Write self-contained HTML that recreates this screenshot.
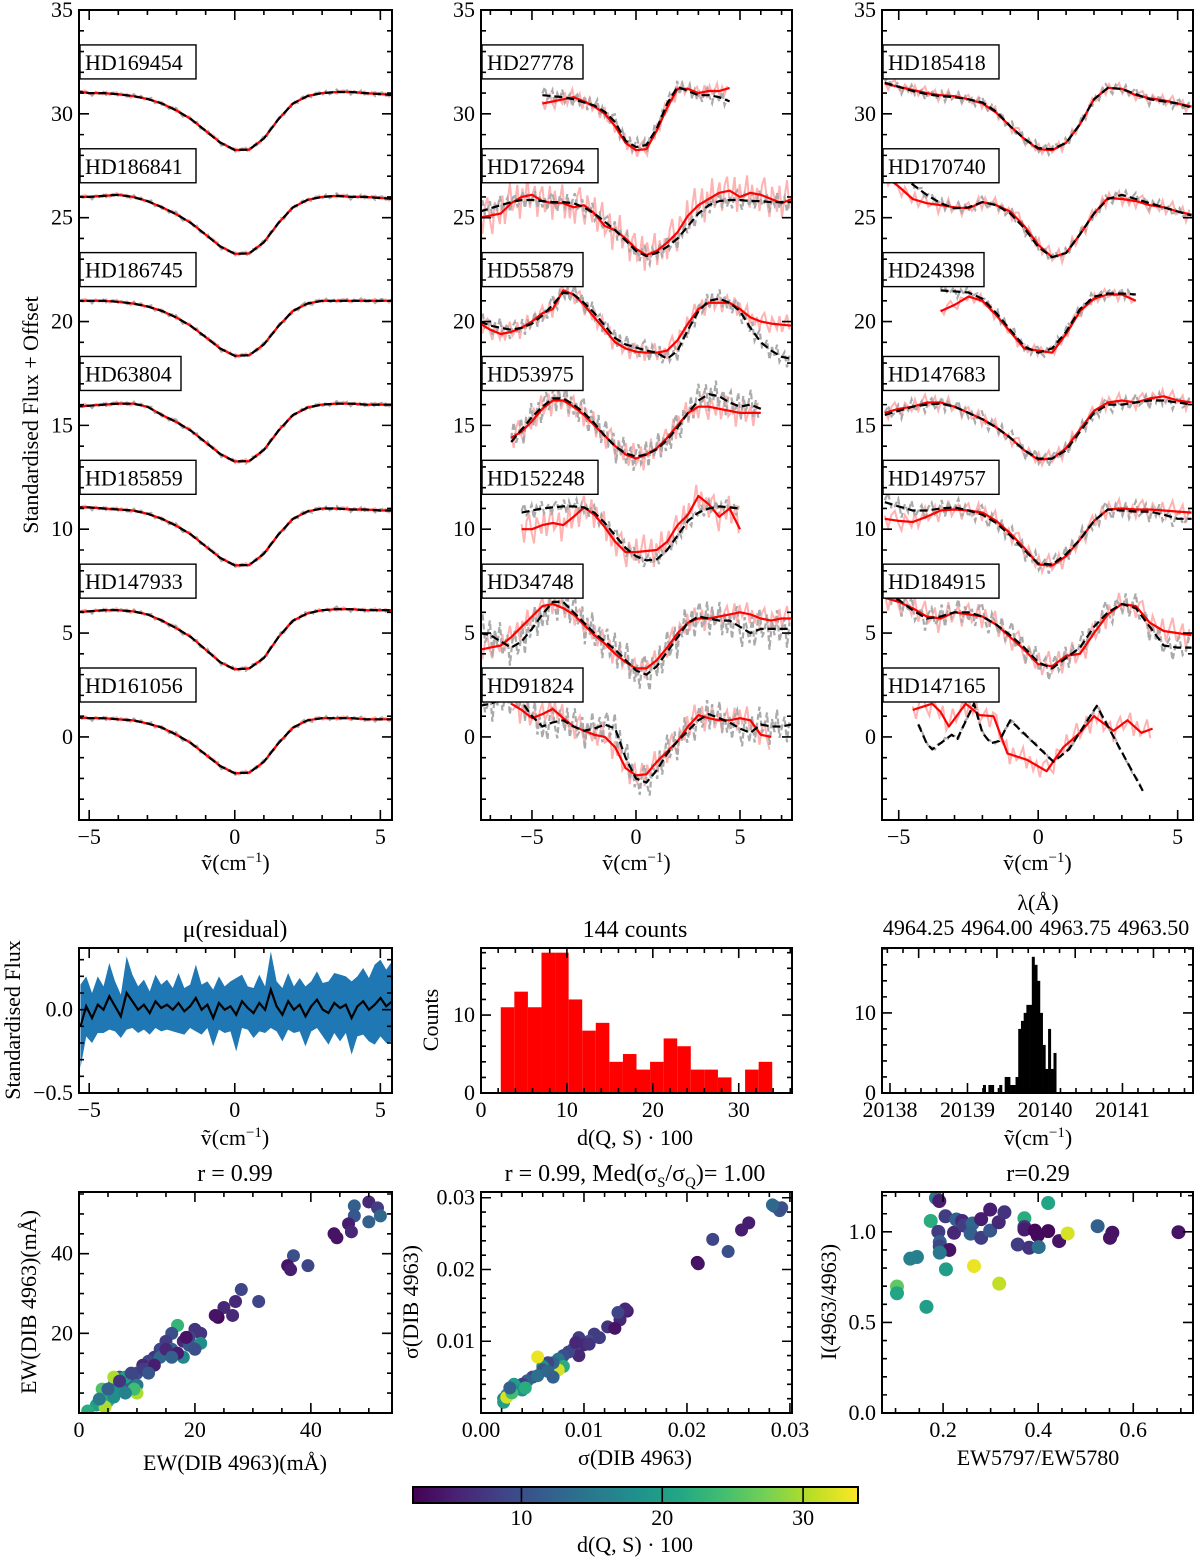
<!DOCTYPE html>
<html><head><meta charset="utf-8"><style>
html,body{margin:0;padding:0;background:#fff}
svg text{font-family:"Liberation Serif",serif;fill:#000}
</style></head><body>
<svg id="fig" xmlns="http://www.w3.org/2000/svg" width="1200" height="1560" viewBox="0 0 1200 1560"><defs id="defs"></defs></svg>
<script>
// ---------- DATA ----------
const NOISE=[0.3,-0.8,0.5,0.9,-0.2,-0.9,0.6,0.1,-0.5,0.8,-0.7,0.2,1.0,-0.4,-0.1,0.7,-1.0,0.4,-0.3,0.9,-0.6,0.0,0.5,-0.9,0.3,0.7,-0.5,-0.2,0.8,-0.8,0.6,-0.3,0.1,0.9,-0.7,0.4,-0.6];
const p1Names=['HD169454','HD186841','HD186745','HD63804','HD185859','HD147933','HD161056'];
const hd169454=[31.1,31.0,31.0,30.94,30.86,30.72,30.5,30.16,29.74,29.18,28.62,28.26,28.28,28.82,29.74,30.5,30.86,31.0,31.05,31.05,31.0,30.95,30.9];
const hd186841=[26,26,26.05,26.1,26.0,25.8,25.5,25.16,24.74,24.18,23.62,23.26,23.28,23.82,24.74,25.5,25.86,26.0,26.05,26.0,26.0,25.95,25.9];
const hd186745=[21,21,21,20.95,20.87,20.73,20.51,20.19,19.78,19.25,18.7,18.35,18.38,18.9,19.78,20.51,20.87,21,21,21,21,21,21];
const hd63804=[15.9,15.95,16.0,16.05,16.05,15.9,15.5,15.16,14.74,14.18,13.62,13.26,13.28,13.82,14.74,15.5,15.86,16.0,16.05,16.05,16.0,16.0,16.0];
const hd185859=[11.05,11.05,11.0,10.95,10.9,10.75,10.5,10.16,9.74,9.18,8.62,8.26,8.28,8.82,9.74,10.5,10.86,11.0,11.0,10.95,10.95,10.9,10.9];
const hd147933=[6.0,6.05,6.1,6.1,6.05,5.9,5.6,5.23,4.8,4.2,3.6,3.25,3.3,3.8,4.8,5.6,5.95,6.1,6.15,6.15,6.1,6.1,6.1];
const hd161056=[0.95,0.9,0.9,0.85,0.8,0.65,0.45,0.1,-0.3,-0.85,-1.4,-1.75,-1.72,-1.2,-0.3,0.45,0.8,0.9,0.9,0.9,0.85,0.85,0.85];
const hd27778_fit=[30.9,30.85,30.8,30.7,30.55,30.4,30.1,29.6,28.7,28.4,28.5,29.3,30.5,31.3,31.1,30.9,30.9,30.8,30.6];
const hd27778_red=[30.5,30.6,30.7,30.8,30.6,30.35,30.0,29.4,28.6,28.25,28.3,29.2,30.3,31.2,31.2,31.0,31.1,31.1,31.25];
const hd172694_fit=[25.3,25.45,25.6,25.75,25.85,25.85,25.8,25.75,25.75,25.7,25.5,25.2,24.8,24.4,23.9,23.4,23.15,23.3,23.6,24.0,24.6,25.2,25.6,25.8,25.85,25.85,25.8,25.8,25.75,25.75,25.75];
const hd172694_red=[25.0,25.1,25.2,25.7,26.0,26.1,25.8,25.7,25.7,25.5,25.6,25.2,24.6,24.4,24.0,23.5,23.2,23.4,23.8,24.3,25.1,25.6,25.9,26.2,26.3,26.0,26.2,26.1,25.9,25.7,25.9];
const hd55879_fit=[20.0,19.8,19.7,19.6,19.7,19.9,20.3,20.8,21.4,21.3,20.9,20.4,19.8,19.2,18.9,18.75,18.6,18.5,18.2,18.6,19.6,20.5,21.0,21.1,20.9,20.5,19.7,19.0,18.6,18.3,18.2];
const hd55879_red=[19.9,19.6,19.4,19.5,19.7,20.0,20.4,20.6,21.5,21.3,20.8,20.2,19.6,19.0,18.7,18.55,18.5,18.5,18.6,19.1,19.9,20.6,20.9,20.9,20.9,20.6,20.2,20.0,19.9,19.85,19.8];
const hd53975_fit=[14.2,14.8,15.4,15.9,16.3,16.3,16.0,15.6,15.1,14.5,14.0,13.65,13.5,13.6,13.85,14.3,14.9,15.6,16.2,16.5,16.4,16.1,15.9,16.0,15.8];
const hd53975_red=[14.4,14.7,15.2,15.8,16.2,16.2,15.9,15.5,15.0,14.5,14.0,13.6,13.4,13.6,13.9,14.4,15.0,15.6,15.9,15.9,15.8,15.7,15.6,15.6,15.6];
const hd152248_fit=[10.8,10.9,11.0,11.05,11.1,11.1,11.05,10.8,10.3,9.7,9.1,8.7,8.5,8.55,9.0,9.7,10.4,10.8,11.0,11.1,11.05,11.0];
const hd152248_red=[10.0,10.0,10.2,10.3,10.2,10.6,11.05,10.7,10.1,9.4,8.9,8.9,8.95,9.0,9.4,10.2,10.7,11.6,11.2,10.6,11.0,10.0];
const hd34748_fit=[5.0,4.9,4.6,4.3,4.6,5.2,5.9,6.5,6.5,6.0,5.5,5.0,4.6,4.2,3.7,3.2,3.0,3.4,4.1,4.8,5.5,5.8,5.7,5.6,5.6,5.3,5.0,5.2,5.2,5.2,5.2];
const hd34748_red=[4.2,4.3,4.4,4.8,5.3,5.8,6.3,6.4,6.2,5.9,5.4,4.9,4.5,4.0,3.6,3.3,3.3,3.7,4.3,5.0,5.5,5.7,5.7,5.8,5.9,6.0,5.9,5.7,5.6,5.7,5.7];
const hd91824_fit=[1.5,1.6,1.8,1.9,1.7,1.0,0.5,0.7,0.8,0.5,0.3,0.4,0.6,0.4,-1.0,-2.0,-2.2,-1.6,-0.8,-0.2,0.3,0.8,1.1,0.9,0.7,0.4,0.2,0.6,0.5,0.5,0.6];
const hd91824_red=[null,null,null,1.6,1.3,0.9,1.1,1.35,0.9,0.5,0.3,0.1,0.0,-0.5,-1.5,-1.85,-1.8,-1.2,-0.7,-0.2,0.5,1.05,0.9,0.8,0.8,0.9,0.8,0.1,0.0,null,null];
const hd185418_fit=[31.5,31.3,31.1,30.95,30.85,30.8,30.7,30.55,30.1,29.4,28.8,28.35,28.3,28.6,29.5,30.7,31.25,31.2,30.95,30.7,30.6,30.5,30.3];
const hd185418_red=[31.45,31.3,31.15,31.0,30.9,30.85,30.7,30.5,30.05,29.4,28.8,28.3,28.25,28.6,29.5,30.7,31.25,31.2,30.9,30.75,30.65,30.5,30.35];
const hd170740_fit=[27.8,27.2,26.6,26.1,25.7,25.45,25.5,25.75,25.6,25.2,24.5,23.6,23.1,23.3,24.2,25.2,25.9,26.1,25.9,25.7,25.5,25.3,25.1];
const hd170740_red=[27.0,26.5,25.9,25.7,25.6,25.5,25.45,25.75,25.6,25.3,24.6,23.7,23.1,23.3,24.2,25.2,25.95,25.9,25.8,25.6,25.5,25.3,25.15];
const hd24398_fit=[21.5,21.45,21.4,21.1,20.4,19.6,18.8,18.5,18.7,19.5,20.6,21.2,21.35,21.35,21.3];
const hd24398_red=[20.5,20.8,21.2,21.0,20.3,19.5,18.7,18.6,18.5,19.4,20.5,21.1,21.3,21.3,21.0];
const hd147683_fit=[15.5,15.7,15.9,16.0,16.05,15.9,15.6,15.3,14.9,14.4,13.8,13.4,13.4,13.8,14.7,15.6,16.0,16.0,16.1,16.2,16.2,16.1,16.0];
const hd147683_red=[15.6,15.8,15.9,16.1,16.1,15.9,15.6,15.3,14.9,14.4,13.8,13.35,13.4,13.9,14.8,15.7,16.1,16.2,16.1,16.3,16.4,16.2,16.1];
const hd149757_fit=[11.3,11.1,10.9,10.9,11.0,11.05,10.9,10.7,10.3,9.7,9.0,8.35,8.3,8.8,9.5,10.4,10.95,10.9,10.85,10.85,10.7,10.5,10.5];
const hd149757_red=[10.5,10.4,10.35,10.6,10.9,10.95,10.9,10.8,10.4,9.8,9.1,8.3,8.25,8.7,9.5,10.4,10.95,11.0,10.95,10.95,10.9,10.85,10.8];
const hd184915_fit=[6.8,6.6,6.1,5.7,5.8,6.0,6.0,5.8,5.4,4.9,4.3,3.6,3.3,3.8,4.3,5.3,6.0,6.4,6.2,5.3,4.4,4.3,4.3];
const hd184915_red=[6.7,6.5,6.2,5.8,5.7,6.0,5.9,5.8,5.4,4.8,4.2,3.5,3.4,3.9,4.0,5.0,5.9,6.4,6.3,5.5,5.1,5.0,4.9];
const hd147165_fitX=[-4.3,-4.0,-3.8,-3.4,-3.1,-2.9,-2.3,-2.0,-1.7,-1.4,-1.0,0.55,1.1,2.1,3.75];
const hd147165_fit=[0.6,-0.3,-0.6,-0.2,0.1,-0.1,1.6,0.2,-0.3,-0.2,0.8,-1.2,-0.6,1.5,-2.6];
const hd147165_redX=[-4.5,-3.8,-3.5,-3.2,-2.6,-2.1,-1.6,-1.1,-0.4,0.3,0.9,1.5,2.0,2.7,3.2,3.7,4.1];
const hd147165_red=[1.3,1.6,1.2,0.5,1.6,1.05,1.0,-0.8,-1.1,-1.65,-0.5,0.2,1.0,0.3,0.8,0.2,0.4];
const resMean=[-0.1,0.02,-0.05,0.03,0.0,0.08,0.02,-0.04,0.1,0.05,0.0,0.03,-0.02,0.05,0.01,0.03,0.0,0.04,-0.01,0.02,0.07,0.0,0.03,-0.05,0.04,0.0,0.02,-0.03,0.05,0.01,-0.02,0.04,0.0,0.12,0.02,-0.03,0.05,0.0,0.03,-0.04,0.02,0.06,0.0,-0.02,0.04,0.01,0.03,-0.05,0.02,0.05,0.0,0.03,0.07,0.02,0.05];
const resBand=[0.25,0.18,0.15,0.17,0.14,0.2,0.15,0.13,0.22,0.16,0.14,0.15,0.13,0.16,0.14,0.15,0.13,0.18,0.14,0.13,0.2,0.15,0.14,0.17,0.16,0.14,0.15,0.22,0.16,0.13,0.15,0.17,0.14,0.23,0.15,0.16,0.17,0.14,0.16,0.18,0.15,0.17,0.16,0.19,0.18,0.2,0.17,0.22,0.18,0.2,0.19,0.24,0.23,0.22,0.24];
const dqsCounts=[11,13,11,18,18,12,8,9,4,5,3,4,7,6,3,3,2,0,3,4];
const nuCounts=[1,0,1,1,0,0,1,0,2,2,1,1,2,8,9,10,11,11,17,16,14,10,6,3,8,3,5];
const lambdaLabels=['4964.25','4964.00','4963.75','4963.50'];
const lambdaPos=[20138.37,20139.38,20140.39,20141.40];
const ewX=[50,51.5,47.5,47.5,50,52,46.5,47,44,44.5,37,36,36.5,39.5,28,31,27,25,24,23.5,26.5,20,21,21,17,19,18,16,15,14,16,18,19,13,12,11,12,14,15,10,9,8,10,7,6,5,7,4,5,3,4,6,4.5,1.5,10,9.5,8,11,13,17,16,20,18.5,7,9,12,6,5,8,3.5];
const ewY=[53,51.5,52,49.5,48,49.5,47.5,45.5,45,44,39.5,37,36,37,31,28,28,26.5,24,24.5,24.5,21,20,17.5,22,19,18,20,18,16,16,14,17,14,13,12,11,14,16,10,9,8,7,9,7,5,6,4,3,2,6,9,1.5,0.5,5,6,9,11,12,15,14,16,19,8,10,10,4,6,5,3.5];
const ewC=[6,8,12,11,12,13,5,6,4,4,10,4,5,9,9,9,6,6,3,4,6,7,7,18,23,9,6,10,8,9,12,17,11,7,9,6,10,13,6,10,8,12,15,10,14,20,18,21,22,20,25,30,30,22,30,24,20,8,5,5,12,10,4,7,9,11,18,12,16,15];
const sgX=[28.5,29,29.2,28.3,26,25.3,22.5,24,21,21.1,14.2,14,13.5,13.3,12.3,13,11,10.5,9.5,10,9,9.5,8.5,8,7.5,8,7.5,7,6.5,6,5.5,6,5,4.5,4,3.5,3,3.2,4,2.5,2.2,2.2,2.5,3,4.3,2.8,5.5,6.5,7,9.2,10.5,11.5];
const sgY=[28.8,28.2,28.6,29,26.5,25.5,24.2,22.5,21,20.8,14.2,14.5,13,14,12,11.8,11,10,10.5,9.5,9,8,8.5,8,7.5,6.5,6,7,7,6.5,7.8,6,5,4.5,4,3.5,3,4,3.2,2.5,2,1.5,2.2,2.8,3.5,3.5,5.2,5.8,5,9.8,9.6,10.5];
const sgC=[12,11,10,13,5,5,9,10,3,4,5,6,6,9,7,4,8,10,8,6,12,6,9,10,15,22,32,13,9,18,33,11,9,12,8,16,14,20,18,15,16,20,32,24,22,12,14,13,12,6,7,8];
const rtX=[.185,.192,.174,.205,.19,.223,.228,.24,.244,.262,.258,.28,.28,.299,.299,.317,.329,.193,.193,.213,.193,.131,.145,.206,.265,.318,.103,.103,.165,.371,.371,.371,.393,.399,.421,.421,.357,.381,.401,.444,.462,.525,.556,.551,.695];
const rtY=[1.187,1.17,1.06,1.086,1.0,.995,1.068,1.06,1.035,1.046,.99,1.07,.967,1.123,1.007,1.053,1.108,.943,.92,.9,.885,.852,.861,.793,.811,.714,.698,.661,.586,1.075,1.027,1.013,1.007,.98,1.004,1.159,.93,.912,.916,.949,.991,1.031,.995,.967,.998];
const rtC=[15,5,22,8,8,6,12,6,8,13,12,5,8,5,11,6,7,12,9,4,15,16,16,20,33,31,26,21,20,22,7,5,3,3,3,21,8,7,14,4,32,12,4,4,4];
const cbTicks=[10,20,30];

// ---------- HELPERS ----------
const NS='http://www.w3.org/2000/svg';
const svg=document.getElementById('fig');
const defs=document.getElementById('defs');
const TF=22;
function mk(tag,parent){const e=document.createElementNS(NS,tag);parent.appendChild(e);return e;}
function set(e,o){for(const k in o)e.setAttribute(k,o[k]);return e;}
const VIR=[[68,1,84],[72,35,116],[64,67,135],[52,94,141],[41,120,142],[32,144,140],[34,167,132],[68,190,112],[121,209,81],[189,222,38],[253,231,37]];
const CMIN=2.3,CMAX=33.9;
function vir(c){let t=Math.max(0,Math.min(1,(c-CMIN)/(CMAX-CMIN)))*(VIR.length-1);const i=Math.min(VIR.length-2,Math.floor(t)),f=t-i;const a=VIR[i],b=VIR[i+1];return 'rgb('+a.map((v,k)=>Math.round(v+(b[k]-v)*f)).join(',')+')';}
let clipId=0;
function panel(name,L,T,R,B,x0,x1,y0,y1){
  const p={L,T,R,B,sx:v=>L+(v-x0)/(x1-x0)*(R-L),sy:v=>B-(v-y0)/(y1-y0)*(B-T),x0,x1,y0,y1};
  const cp=mk('clipPath',defs);cp.setAttribute('id','c'+(++clipId));
  set(mk('rect',cp),{x:L,y:T,width:R-L,height:B-T});
  p.root=mk('g',svg);
  
  
  p.g=mk('g',p.root);p.g.setAttribute('clip-path','url(#c'+clipId+')');
  
  
  return p;
}
function frame(p){const r=set(mk('rect',p.root),{x:p.L,y:p.T,width:p.R-p.L,height:p.B-p.T,fill:'none',stroke:'#000','stroke-width':2});
  
  }
function ticksX(p,minor,major,labels,fmt,sides){
  let d='';const n0=Math.ceil(p.x0/minor-1e-6),n1=Math.floor(p.x1/minor+1e-6);
  const g=mk('g',p.root);
  
  
  for(let n=n0;n<=n1;n++){const v=n*minor;const X=p.sx(v);const isM=Math.abs(v/major-Math.round(v/major))<1e-6;const len=isM?10:5;
    if(sides.includes('b'))d+=`M${X},${p.B}v${-len}`;
    if(sides.includes('t'))d+=`M${X},${p.T}v${len}`;
    if(isM&&labels){const t=set(mk('text',g),{x:X,y:p.B+24,'text-anchor':'middle','font-size':TF});t.textContent=fmt(v);
      
      }}
  set(mk('path',g),{d,stroke:'#000','stroke-width':1.6,fill:'none'});
}
function ticksY(p,minor,major,labels,fmt){
  let d='';const n0=Math.ceil(p.y0/minor-1e-6),n1=Math.floor(p.y1/minor+1e-6);
  const g=mk('g',p.root);
  
  
  for(let n=n0;n<=n1;n++){const v=n*minor;const Y=p.sy(v);const isM=Math.abs(v/major-Math.round(v/major))<1e-6;const len=isM?10:5;
    d+=`M${p.L},${Y}h${len}M${p.R},${Y}h${-len}`;
    if(isM&&labels){const t=set(mk('text',g),{x:p.L-6,y:Y+7,'text-anchor':'end','font-size':TF});t.textContent=fmt(v);
      
      }}
  set(mk('path',g),{d,stroke:'#000','stroke-width':1.6,fill:'none'});
}
function text(parent,s,x,y,size,anchor,rot){const t=set(mk('text',parent),{x,y,'font-size':size,'text-anchor':anchor||'middle'});
  if(rot)t.setAttribute('transform',`rotate(-90 ${x} ${y})`);t.textContent=s;return t;}
function nuLabel(parent,x,y){const t=set(mk('text',parent),{x,y,'font-size':22,'text-anchor':'middle'});
  
  
  t.appendChild(document.createTextNode('ṽ(cm'));const s=mk('tspan',t);set(s,{'font-size':15,dy:-8});s.textContent='−1';
  const s2=mk('tspan',t);set(s2,{dy:8});s2.textContent=')';}
function pathOf(p,xs,ys){let d='',pen=false;for(let i=0;i<xs.length;i++){if(ys[i]==null){pen=false;continue;}d+=(pen?'L':'M')+p.sx(xs[i]).toFixed(1)+','+p.sy(ys[i]).toFixed(1);pen=true;}return d;}
function interp(xs,ys,x){for(let i=0;i<xs.length-1;i++){if(x>=xs[i]&&x<=xs[i+1]){if(ys[i]==null||ys[i+1]==null)return null;const f=(x-xs[i])/(xs[i+1]-xs[i]);return ys[i]+(ys[i+1]-ys[i])*f;}}return null;}
function noisy(p,xs,ys,amp,shift){const nx=[],ny=[];let i=0;for(let x=xs[0];x<=xs[xs.length-1]+1e-9;x+=0.12,i++){const v=interp(xs,ys,x);nx.push(x);ny.push(v==null?null:v+amp*NOISE[(i+shift)%NOISE.length]);}return pathOf(p,nx,ny);}
function grid(a,b){const r=[];for(let v=a;v<=b+1e-9;v+=0.5)r.push(Math.round(v*10)/10);return r;}
function star(p,name,fx,fy,rx,ry,ampR,ampG){
  const g=mk('g',p.g);
  
  
  const a=set(mk('path',g),{d:noisy(p,rx,ry,ampR,0),stroke:'rgba(255,0,0,0.3)','stroke-width':2,fill:'none'});
  
  
  const b=set(mk('path',g),{d:noisy(p,fx,fy,ampG,11),stroke:'#aaa','stroke-width':2.2,'stroke-dasharray':'6,3',fill:'none'});
  
  
  const c=set(mk('path',g),{d:pathOf(p,rx,ry),stroke:'#f00','stroke-width':2.2,fill:'none','stroke-linejoin':'round'});
  
  
  const e=set(mk('path',g),{d:pathOf(p,fx,fy),stroke:'#000','stroke-width':2.2,'stroke-dasharray':'8,4',fill:'none','stroke-linejoin':'round'});
  
  
}
function labelBox(p,name,k){const g=mk('g',p.root);
  
  
  const w=name.length>=8?116:101;const cy=p.sy(32.5-5*k);
  set(mk('rect',g),{x:p.L+1,y:cy-17,width:w,height:34,fill:'#fff',stroke:'#000','stroke-width':1.4});
  text(g,name,p.L+6,cy+8,22,'start');}

// ---------- TOP PANELS ----------
const P1=panel('panel-narrow-stars',79,10,392,820,-5.35,5.4,-4,35);
const g1=grid(-5.5,5.5);
[hd169454,hd186841,hd186745,hd63804,hd185859,hd147933,hd161056].forEach((arr,k)=>star(P1,p1Names[k],g1,arr,g1,arr,0.1,0.12));
const P2=panel('panel-noisy-stars',481,10,792,820,-7.45,7.5,-4,35);
const p2=[['HD27778',grid(-4.5,4.5),hd27778_fit,hd27778_red,0.4,0.4],['HD172694',grid(-7.5,7.5),hd172694_fit,hd172694_red,1.0,0.5],
 ['HD55879',grid(-7.5,7.5),hd55879_fit,hd55879_red,0.5,0.5],['HD53975',grid(-6,6),hd53975_fit,hd53975_red,0.7,0.8],
 ['HD152248',grid(-5.5,5),hd152248_fit,hd152248_red,0.8,0.4],['HD34748',grid(-7.5,7.5),hd34748_fit,hd34748_red,0.6,1.0],
 ['HD91824',grid(-7.5,7.5),hd91824_fit,hd91824_red,0.7,0.9]];
p2.forEach(s=>star(P2,s[0],s[1],s[2],s[1],s[3],s[4],s[5]));
const P3=panel('panel-broad-stars',882,10,1193,820,-5.6,5.55,-4,35);
const p3=[['HD185418',g1,hd185418_fit,g1,hd185418_red,0.3,0.3],['HD170740',g1,hd170740_fit,g1,hd170740_red,0.4,0.3],
 ['HD24398',grid(-3.5,3.5),hd24398_fit,grid(-3.5,3.5),hd24398_red,0.3,0.3],['HD147683',g1,hd147683_fit,g1,hd147683_red,0.4,0.4],
 ['HD149757',g1,hd149757_fit,g1,hd149757_red,0.5,0.5],['HD184915',g1,hd184915_fit,g1,hd184915_red,0.7,0.7],
 ['HD147165',hd147165_fitX,hd147165_fit,hd147165_redX,hd147165_red,0.6,0.1]];
p3.forEach(s=>star(P3,s[0],s[1],s[2],s[3],s[4],s[5],s[6]));
[[P1,p1Names],[P2,p2.map(s=>s[0])],[P3,p3.map(s=>s[0])]].forEach(([p,names])=>{
  names.forEach((n,k)=>labelBox(p,n,k));
  ticksX(p,1,5,true,v=>v<0?'−'+(-v):''+v,'bt');ticksY(p,1,5,true,v=>''+v);frame(p);nuLabel(p.root,(p.L+p.R)/2,870);});
const yl=text(svg,'Standardised Flux + Offset',38,415,22,'middle',true);



// ---------- RESIDUAL ----------
const P4=panel('panel-residual',79,948,392,1093,-5.35,5.4,-0.5,0.37);
const resX=resMean.map((_,i)=>-5.3+i*10.7/(resMean.length-1));
let band='';resX.forEach((x,i)=>band+=(i?'L':'M')+P4.sx(x)+','+P4.sy(resMean[i]+resBand[i]));
for(let i=resX.length-1;i>=0;i--)band+='L'+P4.sx(resX[i])+','+P4.sy(resMean[i]-resBand[i]);
const bandEl=set(mk('path',P4.g),{d:band+'Z',fill:'#1f77b4'});


const meanEl=set(mk('path',P4.g),{d:pathOf(P4,resX,resMean),stroke:'#000','stroke-width':2.2,fill:'none'});


ticksX(P4,1,5,true,v=>v<0?'−'+(-v):''+v,'bt');ticksY(P4,0.1,0.5,true,v=>v<0?'−'+(-v).toFixed(1):v.toFixed(1));frame(P4);
nuLabel(P4.root,235,1145);
text(P4.root,'μ(residual)',235,937,24);
const yl4=text(P4.root,'Standardised Flux',20,1020,22,'middle',true);



// ---------- DQS HIST ----------
const P5=panel('panel-distance-histogram',481,948,792,1093,0,36.2,0,18.6);
const binW=(CMAX-CMIN)/dqsCounts.length;
dqsCounts.forEach((c,i)=>{const x=CMIN+i*binW;const r=set(mk('rect',P5.g),{x:P5.sx(x),y:P5.sy(c),width:P5.sx(x+binW)-P5.sx(x),height:P5.sy(0)-P5.sy(c),fill:'#f00'});
  
  });
ticksX(P5,2,10,true,v=>''+v,'bt');ticksY(P5,2,10,true,v=>''+v);frame(P5);
text(P5.root,'144 counts',635,937,24);
text(P5.root,'d(Q, S) · 100',635,1145,22);
const yl5=text(P5.root,'Counts',438,1020,22,'middle',true);



// ---------- NU HIST ----------
const P6=panel('panel-wavenumber-histogram',882,948,1193,1093,20137.897,20141.91,0,18.1);
const nuW=0.035,nu0=20139.2;
nuCounts.forEach((c,i)=>{if(!c)return;const x=nu0+i*nuW;const r=set(mk('rect',P6.g),{x:P6.sx(x),y:P6.sy(c),width:P6.sx(x+nuW)-P6.sx(x)+0.3,height:P6.sy(0)-P6.sy(c),fill:'#000'});
  
  });
ticksX(P6,0.2,1,true,v=>''+Math.round(v),'b');ticksY(P6,2,10,true,v=>''+v);
let td='';const tg=mk('g',P6.root);


lambdaPos.forEach((v,i)=>{const X=P6.sx(v);td+=`M${X},${P6.T}v10`;text(tg,lambdaLabels[i],X,935,22);
  for(let k=1;k<5;k++){const xm=P6.sx(v+k*0.202);if(xm<P6.R)td+=`M${xm},${P6.T}v5`;const xn=P6.sx(v-k*0.202);if(i==0&&xn>P6.L)td+=`M${xn},${P6.T}v5`;}});
set(mk('path',tg),{d:td,stroke:'#000','stroke-width':1.6});
frame(P6);
text(P6.root,'λ(Å)',1038,910,22);
nuLabel(P6.root,1038,1145);

// ---------- SCATTERS ----------
function scatter(p,xs,ys,cs,r,scale){xs.forEach((x,i)=>{const c=set(mk('circle',p.g),{cx:p.sx(x*scale),cy:p.sy(ys[i]*scale),r,fill:vir(cs[i])});
  
  });}
const P7=panel('panel-ew-comparison',79,1192,392,1413,0,54,0,55.5);
scatter(P7,ewX,ewY,ewC,6.5,1);
ticksX(P7,5,20,true,v=>''+v,'bt');ticksY(P7,5,20,true,v=>v?''+v:'');frame(P7);
text(P7.root,'r =  0.99',235,1181,24);
text(P7.root,'EW(DIB 4963)(mÅ)',235,1470,22);
const yl7=text(P7.root,'EW(DIB 4963)(mÅ)',36,1302,22,'middle',true);



const P8=panel('panel-sigma-comparison',481,1192,792,1413,0,0.0302,0,0.0308);
scatter(P8,sgX,sgY,sgC,6.5,0.001);
ticksX(P8,0.002,0.01,true,v=>v.toFixed(2),'bt');ticksY(P8,0.002,0.01,true,v=>v>0?v.toFixed(2):'');frame(P8);
const t8=set(mk('text',P8.root),{x:635,y:1181,'font-size':24,'text-anchor':'middle'});


t8.innerHTML='r =  0.99, Med(σ<tspan font-size="15" dy="6">S</tspan><tspan dy="-6">/σ</tspan><tspan font-size="15" dy="6">Q</tspan><tspan dy="-6">)= 1.00</tspan>';
text(P8.root,'σ(DIB 4963)',635,1465,22);
const yl8=text(P8.root,'σ(DIB 4963)',418,1302,22,'middle',true);



const P9=panel('panel-ratio-scatter',882,1192,1193,1413,0.0715,0.7256,0,1.22);
scatter(P9,rtX,rtY,rtC,7,1);
ticksX(P9,0.05,0.2,true,v=>v.toFixed(1),'bt');ticksY(P9,0.1,0.5,true,v=>v.toFixed(1));frame(P9);
text(P9.root,'r=0.29',1038,1181,24);
text(P9.root,'EW5797/EW5780',1038,1465,22);
const yl9=text(P9.root,'I(4963/4963)',836,1302,22,'middle',true);



// ---------- COLORBAR ----------
const lg=mk('linearGradient',defs);lg.setAttribute('id','vir');
VIR.forEach((c,i)=>set(mk('stop',lg),{offset:(i/(VIR.length-1)*100)+'%','stop-color':'rgb('+c.join(',')+')'}));
const cb=mk('g',svg);


const cbL=413,cbR=858,cbT=1487,cbB=1503;
set(mk('rect',cb),{x:cbL,y:cbT,width:cbR-cbL,height:cbB-cbT,fill:'url(#vir)',stroke:'#000','stroke-width':2});
cbTicks.forEach(v=>{const X=cbL+(v-CMIN)/(CMAX-CMIN)*(cbR-cbL);set(mk('line',cb),{x1:X,x2:X,y1:cbT,y2:cbB,stroke:'#000','stroke-width':1.6});
  text(cb,''+v,X,1525,22);});
text(cb,'d(Q, S) · 100',635,1552,22);
</script>
</body></html>
